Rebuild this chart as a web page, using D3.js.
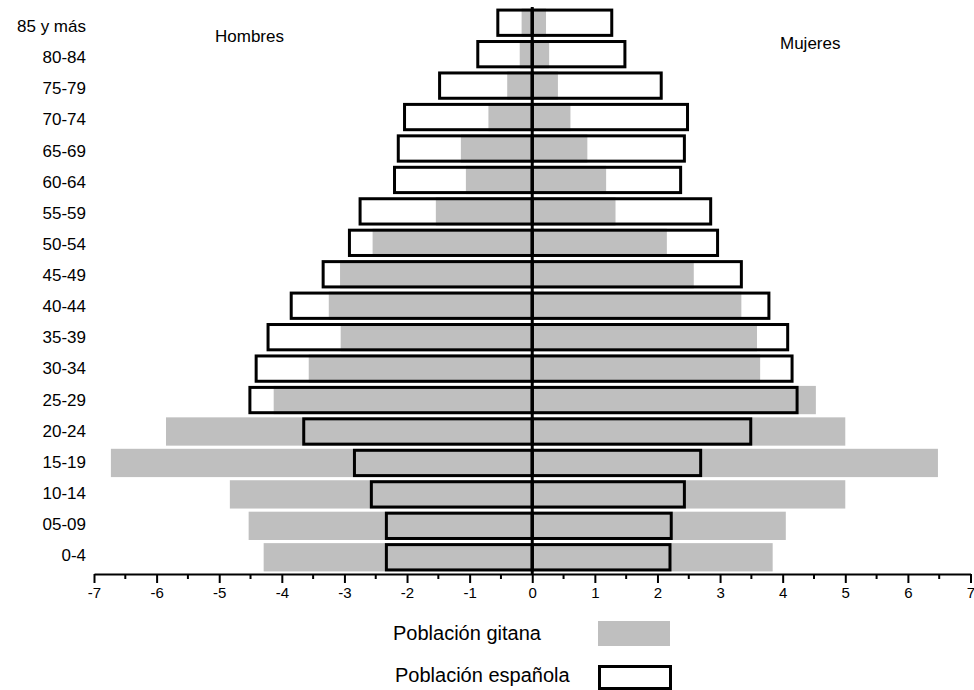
<!DOCTYPE html>
<html>
<head>
<meta charset="utf-8">
<script src="https://cdn.jsdelivr.net/npm/d3@7"></script>
<style>
  body { margin: 0; background: #fff; }
  text { font-family: "Liberation Sans", Arial, sans-serif; fill: #000; }
</style>
</head>
<body>
<script>
// pirámide de población: gitana vs española (% por grupo de edad)

const width = 974;
const height = 690;

// grupos de edad, de arriba a abajo
const ages = ["85 y más", "80-84", "75-79", "70-74", "65-69", "60-64", "55-59", "50-54", "45-49",
  "40-44", "35-39", "30-34", "25-29", "20-24", "15-19", "10-14", "05-09", "0-4"];

// población gitana (%)
const gitanaHombres = [0.17, 0.2, 0.4, 0.7, 1.14, 1.06, 1.54, 2.55, 3.07,
  3.25, 3.06, 3.57, 4.13, 5.85, 6.73, 4.83, 4.53, 4.29];
const gitanaMujeres = [0.22, 0.27, 0.41, 0.61, 0.88, 1.18, 1.33, 2.15, 2.58,
  3.34, 3.59, 3.64, 4.53, 5.0, 6.48, 5.0, 4.05, 3.84];

// población española (%)
const espHombres = [0.55, 0.87, 1.48, 2.04, 2.14, 2.2, 2.75, 2.92, 3.34,
  3.85, 4.22, 4.41, 4.51, 3.65, 2.84, 2.57, 2.33, 2.33];
const espMujeres = [1.27, 1.48, 2.06, 2.48, 2.43, 2.37, 2.85, 2.96, 3.34,
  3.78, 4.08, 4.15, 4.23, 3.49, 2.69, 2.43, 2.22, 2.2];

const xTicks = d3.range(-7, 8);

const svg = d3.select("body").append("svg")
  .attr("width", width)
  .attr("height", height);

const x = d3.scaleLinear().domain([-7, 7]).range([94, 970.5]);
const y = d3.scaleBand().domain(ages).range([7, 573]).paddingInner(0.1).paddingOuter(0.05);
const yLabel = d3.scalePoint().domain(ages).range([26, 555]);

const gray = "#bfbfbf";

const rows = ages.map((a, i) => ({
  age: a,
  gh: gitanaHombres[i], gm: gitanaMujeres[i],
  eh: espHombres[i], em: espMujeres[i]
}));

// barras gitanas (relleno gris)
svg.append("g").selectAll("rect")
  .data(rows).enter().append("rect")
  .attr("x", d => x(-d.gh))
  .attr("width", d => x(0) - x(-d.gh))
  .attr("y", d => y(d.age))
  .attr("height", y.bandwidth())
  .attr("fill", gray);

svg.append("g").selectAll("rect")
  .data(rows).enter().append("rect")
  .attr("x", x(0))
  .attr("width", d => x(d.gm) - x(0))
  .attr("y", d => y(d.age))
  .attr("height", y.bandwidth())
  .attr("fill", gray);

// barras españolas (solo contorno)
const sw = 3;
svg.append("g").selectAll("rect")
  .data(rows).enter().append("rect")
  .attr("x", d => x(-d.eh))
  .attr("width", d => x(0) - x(-d.eh))
  .attr("y", d => y(d.age) + sw / 2)
  .attr("height", y.bandwidth() - sw)
  .attr("fill", "none")
  .attr("stroke", "#000")
  .attr("stroke-width", sw);

svg.append("g").selectAll("rect")
  .data(rows).enter().append("rect")
  .attr("x", x(0))
  .attr("width", d => x(d.em) - x(0))
  .attr("y", d => y(d.age) + sw / 2)
  .attr("height", y.bandwidth() - sw)
  .attr("fill", "none")
  .attr("stroke", "#000")
  .attr("stroke-width", sw);

// línea central
const axisY = 574;
svg.append("line")
  .attr("x1", x(0)).attr("x2", x(0))
  .attr("y1", y.range()[0]).attr("y2", axisY)
  .attr("stroke", "#000")
  .attr("stroke-width", 3);

// eje x
const gx = svg.append("g")
  .attr("transform", `translate(0,${axisY})`)
  .call(d3.axisBottom(x).tickValues(xTicks).tickSize(9).tickSizeOuter(0).tickFormat(d => String(d)));
gx.select(".domain").attr("stroke", "#000").attr("stroke-width", 2);
gx.selectAll(".tick line").attr("stroke", "#000").attr("stroke-width", 2);
gx.selectAll(".tick text")
  .style("font-size", "15px")
  .style("font-family", "'Liberation Sans', Arial, sans-serif")
  .attr("y", 13);

// marcas menores
gx.append("g").selectAll("line")
  .data(d3.range(-6.5, 7, 1))
  .enter().append("line")
  .attr("x1", d => x(d)).attr("x2", d => x(d))
  .attr("y1", 0).attr("y2", 5)
  .attr("stroke", "#000").attr("stroke-width", 2);

// etiquetas de edad
svg.append("g").selectAll("text")
  .data(ages).enter().append("text")
  .attr("x", 86)
  .attr("y", d => yLabel(d))
  .attr("dy", "0.36em")
  .attr("text-anchor", "end")
  .style("font-size", "17px")
  .text(d => d);

svg.append("text").attr("x", 215).attr("y", 42).style("font-size", "17px").text("Hombres");
svg.append("text").attr("x", 780).attr("y", 49).style("font-size", "17px").text("Mujeres");

// leyenda
svg.append("text").attr("x", 393).attr("y", 640).style("font-size", "20px").text("Población gitana");
svg.append("rect").attr("x", 598).attr("y", 621).attr("width", 72).attr("height", 25).attr("fill", gray);

svg.append("text").attr("x", 395).attr("y", 682).style("font-size", "20px").text("Población española");
svg.append("rect").attr("x", 599.5).attr("y", 666.5).attr("width", 71).attr("height", 22)
  .attr("fill", "none").attr("stroke", "#000").attr("stroke-width", 3);
</script>
</body>
</html>
